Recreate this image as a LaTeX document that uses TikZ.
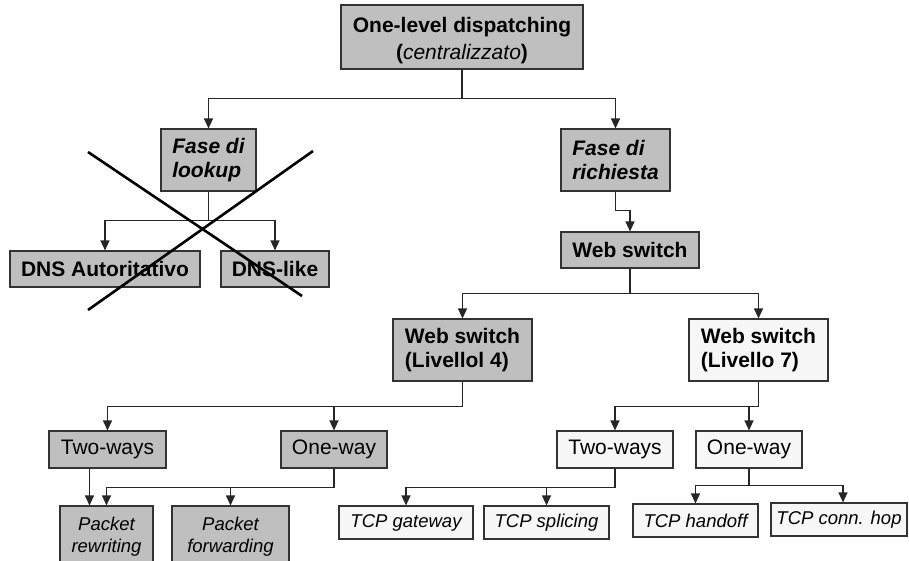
\documentclass[tikz,border=0pt]{standalone}
\usepackage{fontspec}
\setmainfont{Liberation Sans}
\usetikzlibrary{arrows.meta}

\begin{document}
\begin{tikzpicture}[x=1pt,y=-1pt,
  txt/.style={font=\fontsize{21}{24}\selectfont},
  box/.style={txt, draw=black!80, line width=1.1pt, inner xsep=0pt, inner ysep=0pt, anchor=center},
  gbox/.style={box, fill=black!25},
  wbox/.style={box, fill=black!3},
  bf/.style={font=\fontsize{21}{24}\selectfont\bfseries},
  bfit/.style={font=\fontsize{21}{24}\selectfont\bfseries\itshape},
  it/.style={font=\fontsize{18.5}{22}\selectfont\itshape},
  wire/.style={draw=black!85, line width=1.1pt},
  arr/.style={wire, -{Triangle[length=10pt,width=9pt]}},
  cross/.style={draw=black, line width=2.6pt},
]
\useasboundingbox (0,0) rectangle (909,560);

% root
\node[gbox, minimum width=242, minimum height=64, align=center,
      font=\fontsize{21}{27}\selectfont] (top) at (462,37)
  {\rule{0pt}{23pt}\textbf{One-level dispatching}\\\textbf{(}\textit{centralizzato}\textbf{)}};

% phases
\node[gbox, bfit, minimum width=95, minimum height=62, align=left]
  (lookup) at (208.5,160) {Fase di\\lookup};
\node[gbox, bfit, minimum width=109, minimum height=62, align=left]
  (richiesta) at (615.5,160) {Fase di\\richiesta};

% lookup branch
\node[gbox, bf, minimum width=190, minimum height=36] (dnsa) at (105,269) {DNS Autoritativo};
\node[gbox, bf, minimum width=108, minimum height=36] (dnsl) at (275,269) {DNS-like};

% request branch
\node[gbox, bf, minimum width=138, minimum height=36] (ws) at (630,250) {Web switch};
\node[gbox, bf, minimum width=139, minimum height=62, align=left]
  (l4) at (462.5,350) {Web switch\\(Livellol 4)};
\node[wbox, bf, minimum width=139, minimum height=62, align=left]
  (l7) at (758.5,350) {Web switch\\(Livello 7)};

% level 4
\node[gbox, minimum width=117, minimum height=37] (twoL) at (107.5,449.5) {Two-ways};
\node[gbox, minimum width=106, minimum height=37] (oneL) at (334,449.5) {One-way};
\node[gbox, it, minimum width=93, minimum height=62, align=center] (prw) at (106.5,537) {Packet\\rewriting};
\node[gbox, it, minimum width=117, minimum height=62, align=center] (pfw) at (230.5,537) {Packet\\forwarding};

% level 7
\node[wbox, minimum width=116, minimum height=37] (twoR) at (615,449.5) {Two-ways};
\node[wbox, minimum width=106, minimum height=37] (oneR) at (749,449.5) {One-way};
\node[wbox, it, minimum width=134, minimum height=33] (tcpg) at (406,522.5) {TCP gateway};
\node[wbox, it, minimum width=125, minimum height=33] (tcps) at (546.5,522.5) {TCP splicing};
\node[wbox, it, minimum width=125, minimum height=33] (tcph) at (695.5,520.5) {TCP handoff};
\node[wbox, it, minimum width=136, minimum height=33] (tcpc) at (839,519.5) {TCP conn. hop};

% connectors
\draw[arr] (top.south) -- ++(0,29) -| (lookup.north);
\draw[arr] (top.south) -- ++(0,29) -| (richiesta.north);
\draw[arr] (lookup.south) -- ++(0,29) -| (dnsa.north);
\draw[arr] (lookup.south) -- ++(0,29) -| (dnsl.north);
\draw[arr] (richiesta.south) -- ++(0,19) -| (ws.north);
\draw[arr] (ws.south) -- ++(0,25) -| (l4.north);
\draw[arr] (ws.south) -- ++(0,25) -| (l7.north);
\draw[arr] (l4.south) -- ++(0,25) -| (twoL.north);
\draw[arr] (l4.south) -- ++(0,25) -| (oneL.north);
\draw[arr] (l7.south) -- ++(0,25) -| (twoR.north);
\draw[arr] (l7.south) -- ++(0,25) -| (oneR.north);
\draw[arr] ([xshift=-18]twoL.south) -- ([xshift=-18]twoL.south |- prw.north);
\draw[arr] (oneL.south) -- ++(0,19) -| (prw.north);
\draw[arr] (oneL.south) -- ++(0,19) -| (pfw.north);
\draw[arr] (twoR.south) -- ++(0,19) -| (tcpg.north);
\draw[arr] (twoR.south) -- ++(0,19) -| (tcps.north);
\draw[arr] (oneR.south) -- ++(0,17) -| (tcph.north);
\draw[arr] (oneR.south) -- ++(0,17) -| ([xshift=4]tcpc.north);

% struck-out lookup branch
\draw[cross] (88,152) -- (302,296);
\draw[cross] (313,151) -- (88,310);
\end{tikzpicture}
\end{document}
